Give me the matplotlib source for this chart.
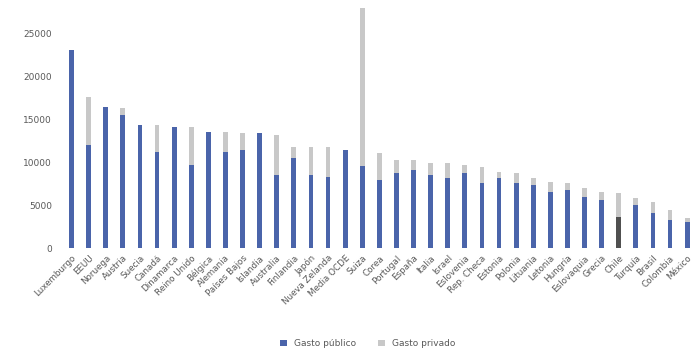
import matplotlib.pyplot as plt
import numpy as np

paises = ["Luxemburgo", "EEUU", "Noruega", "Austria", "Suecia", "Canadá",
          "Dinamarca", "Reino Unido", "Bélgica", "Alemania", "Países Bajos",
          "Islandia", "Australia", "Finlandia", "Japón", "Nueva Zelanda",
          "Media OCDE", "Suiza", "Corea", "Portugal", "España", "Italia",
          "Israel", "Eslovenia", "Rep. Checa", "Estonia", "Polonia",
          "Lituania", "Letonia", "Hungría", "Eslovaquia", "Grecia", "Chile",
          "Turquía", "Brasil", "Colombia", "México"]

publico = [23000, 12000, 16400, 15470, 14300, 11170, 14070, 9650, 13500,
           11170, 11400, 13370, 8490, 10470, 8490, 8260, 11400, 9500, 7900,
           8720, 9100, 8490, 8140, 8720, 7560, 8140, 7560, 7330, 6510, 6750,
           5930, 5580, 3610, 5000, 4070, 3260, 3020]

total = [23000, 17560, 16400, 16280, 14300, 14300, 14070, 14070, 13500,
         13500, 13370, 13370, 13140, 11750, 11750, 11750, 11400, 27900,
         11050, 10230, 10230, 9880, 9880, 9650, 9420, 8840, 8720, 8140,
         7680, 7560, 6980, 6510, 6400, 5810, 5350, 4420, 3490]

privado = [t - p for t, p in zip(total, publico)]

azul = "#4a64aa"
gris = "#c8c8c8"
colores = [azul] * len(paises)
colores[paises.index("Chile")] = "#505050"

fig = plt.figure(figsize=(6.94, 3.56), dpi=100)
ax = fig.add_axes([63 / 694, 108 / 356, 631 / 694, 245 / 356])

x = np.arange(len(paises))
ax.bar(x, publico, width=0.28, color=colores, label="Gasto público")
ax.bar(x, privado, width=0.28, bottom=publico, color=gris, label="Gasto privado")

ax.set_xlim(-0.5, 36.4)
ax.set_ylim(0, 28500)
ax.set_yticks(np.arange(0, 25001, 5000))
ax.tick_params(axis="y", labelsize=6.5, labelcolor="#595959", length=0, pad=8)
ax.set_xticks(x)
ax.set_xticklabels(paises, rotation=45, ha="right", rotation_mode="anchor",
                   fontsize=6.3, color="#595959")
ax.tick_params(axis="x", length=0, pad=4)
for s in ax.spines.values():
    s.set_visible(False)

fig.legend(loc="lower center", bbox_to_anchor=(0.53, 0.0), ncol=2,
           frameon=False, fontsize=6.5, handlelength=0.7, handleheight=0.7,
           columnspacing=2.5, labelcolor="#595959")

fig.savefig("out.png", dpi=100)
